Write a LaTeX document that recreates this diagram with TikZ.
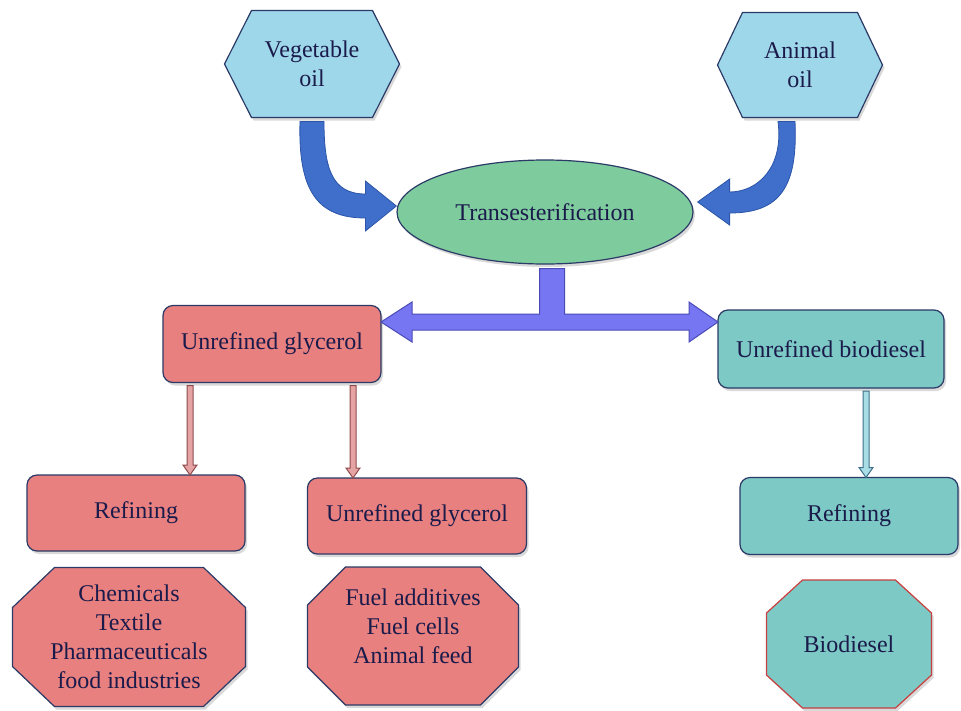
\documentclass[tikz,border=0pt]{standalone}
\usepackage{fontspec}
\setmainfont{Liberation Serif}
\usetikzlibrary{calc,shapes.geometric,shadows,backgrounds}
\definecolor{hexfill}{HTML}{9FD7EA}
\definecolor{elfill}{HTML}{7ECC9E}
\definecolor{redfill}{HTML}{E8807F}
\definecolor{tealfill}{HTML}{7DC9C5}
\definecolor{navy}{HTML}{2B3A66}
\definecolor{txt}{HTML}{1B1B4B}
\definecolor{curv}{HTML}{3F6FCB}
\definecolor{curvd}{HTML}{2C55A8}
\definecolor{dblf}{HTML}{7676F2}
\definecolor{dbld}{HTML}{4B4BB8}
\definecolor{thinred}{HTML}{8E4B4B}
\definecolor{thinredf}{HTML}{E6A3A3}
\definecolor{thinteal}{HTML}{3E6F8A}
\definecolor{thintealf}{HTML}{A9DDE5}
\definecolor{redline}{HTML}{C84040}
\tikzset{
  shad/.style={drop shadow={shadow xshift=2pt,shadow yshift=-3pt,opacity=0.3}},
  holder/.style={inner sep=0pt,outer sep=0pt,align=center},
  rbox/.style={holder,rounded corners=10pt,draw=navy,line width=1.2pt,shad},
  redbox/.style={rbox,fill=redfill},
  tealbox/.style={rbox,fill=tealfill},
  hexshape/.style={fill=hexfill,draw=navy,line width=1.2pt,shad},
  octred/.style={fill=redfill,draw=navy,line width=1.2pt,shad},
  octteal/.style={fill=tealfill,draw=redline,line width=1.2pt,shad},
  curvarrow/.style={fill=curv,draw=curvd,line width=0.8pt},
  dblarrow/.style={fill=dblf,draw=dbld,line width=1pt},
  redarrow/.style={fill=thinredf,draw=thinred,line width=1pt},
  tealarrow/.style={fill=thintealf,draw=thinteal,line width=1pt},
}
\newcommand\hexpath[3]{\path[#3] (#1.west) -- ([xshift=#2]#1.north west) -- ([xshift=-#2]#1.north east) -- (#1.east) -- ([xshift=-#2]#1.south east) -- ([xshift=#2]#1.south west) -- cycle;}
\newcommand\octpath[4]{\path[#4] ([xshift=#2]#1.north west) -- ([xshift=-#2]#1.north east) -- ([yshift=-#3]#1.north east) -- ([yshift=#3]#1.south east) -- ([xshift=-#2]#1.south east) -- ([xshift=#2]#1.south west) -- ([yshift=#3]#1.south west) -- ([yshift=-#3]#1.north west) -- cycle;}
\newcommand\thinarrow[3]{\path[#3] ($(#1)+(-3,0)$) -- ($(#2)+(-3,-10)$) -- ($(#2)+(-7,-10)$) -- (#2) -- ($(#2)+(7,-10)$) -- ($(#2)+(3,-10)$) -- ($(#1)+(3,0)$) -- cycle;}
\begin{document}
\begin{tikzpicture}[x=1pt,y=-1pt,font=\fontsize{24}{29}\selectfont,text=txt]
\useasboundingbox (0,0) rectangle (961,710);

% sources
\node[holder,minimum width=175pt,minimum height=107pt] (veg) at (312,64) {Vegetable\\oil};
\node[holder,minimum width=165pt,minimum height=105pt] (anim) at (800,65) {Animal\\oil};

% process
\node[ellipse,fill=elfill,draw=navy,line width=1.2pt,minimum width=296pt,minimum height=104pt,inner sep=0pt,shad] (trans) at (545,212) {Transesterification};

% products
\node[redbox,minimum width=218pt,minimum height=77pt] (glyc1) at (272,344) {Unrefined glycerol};
\node[tealbox,minimum width=226pt,minimum height=78pt] (biod) at (831,349) {Unrefined biodiesel};
\node[redbox,minimum width=218pt,minimum height=76pt] (ref1) at (136,513) {Refining};
\node[redbox,minimum width=219pt,minimum height=76pt] (glyc2) at (417,516) {Unrefined glycerol};
\node[tealbox,minimum width=218pt,minimum height=77pt] (ref2) at (849,516) {Refining};

% uses
\node[holder,minimum width=233pt,minimum height=139pt] (oct1) at (129,637) {Chemicals\\Textile\\Pharmaceuticals\\food industries};
\node[holder,minimum width=211pt,minimum height=138pt] (oct2) at (413,636) {};
\node[holder] (oct2t) at (413,626) {Fuel additives\\Fuel cells\\Animal feed};
\node[holder,minimum width=165pt,minimum height=128pt] (oct3) at (849,644) {Biodiesel};

\begin{scope}[on background layer]
  \hexpath{veg}{27pt}{hexshape}
  \hexpath{anim}{25pt}{hexshape}
  \octpath{oct1}{42pt}{40pt}{octred}
  \octpath{oct2}{38pt}{38pt}{octred}
  \octpath{oct3}{36pt}{33pt}{octteal}
\end{scope}

% curved arrows into transesterification
\coordinate (s1) at (veg.south);
\coordinate (t1) at ($(trans.west)+(0,-6)$);
\path[curvarrow] ($(s1)+(-12,4)$) .. controls ($(s1)+(-14,72)$) and ($(t1)+(-80,12)$) .. ($(t1)+(-31,12)$) -- ($(t1)+(-31,25)$) -- (t1) -- ($(t1)+(-31,-25)$) -- ($(t1)+(-31,-12)$) .. controls ($(t1)+(-65,-12)$) and ($(s1)+(12,50)$) .. ($(s1)+(12,4)$) -- cycle;
\coordinate (s2) at ($(anim.south)+(-14,0)$);
\coordinate (t2) at ($(trans.east)+(4,-10)$);
\path[curvarrow] ($(s2)+(-8,4)$) .. controls ($(s2)+(-2,50)$) and ($(t2)+(60,-10)$) .. ($(t2)+(32,-10)$) -- ($(t2)+(32,-23)$) -- (t2) -- ($(t2)+(32,23)$) -- ($(t2)+(32,11)$) .. controls ($(t2)+(82,11)$) and ($(s2)+(12,70)$) .. ($(s2)+(9,4)$) -- cycle;

% T-shaped double arrow
\coordinate (aL) at ([yshift=22pt]glyc1.east);
\coordinate (aR) at (biod.west |- aL);
\coordinate (aT) at ($(trans.south)+(7,4)$);
\coordinate (bu) at ($(aL)+(0,-8)$);
\coordinate (bd) at ($(aL)+(0,8)$);
\path[dblarrow] (aL) -- ++(31,-20) -- ++(0,12) -- ($(aT|-bu)+(-12.5,0)$) -- ($(aT)+(-12.5,0)$) -- ($(aT)+(12.5,0)$) -- ($(aT|-bu)+(12.5,0)$) -- ($(aR|-bu)+(-29,0)$) -- ++(0,-12) -- (aR) -- ++(-29,20) -- ++(0,-12) -- ($(aL|-bd)+(31,0)$) -- ++(0,12) -- cycle;

% thin down arrows
\coordinate (d1s) at ($(glyc1.south west)+(27,3)$);
\coordinate (d1e) at (d1s |- ref1.north);
\thinarrow{d1s}{d1e}{redarrow}
\coordinate (d2s) at ($(glyc1.south east)+(-28,3)$);
\coordinate (d2e) at (d2s |- glyc2.north);
\thinarrow{d2s}{d2e}{redarrow}
\coordinate (d3s) at ($(biod.south west)+(148,3)$);
\coordinate (d3e) at (d3s |- ref2.north);
\thinarrow{d3s}{d3e}{tealarrow}
\end{tikzpicture}
\end{document}
